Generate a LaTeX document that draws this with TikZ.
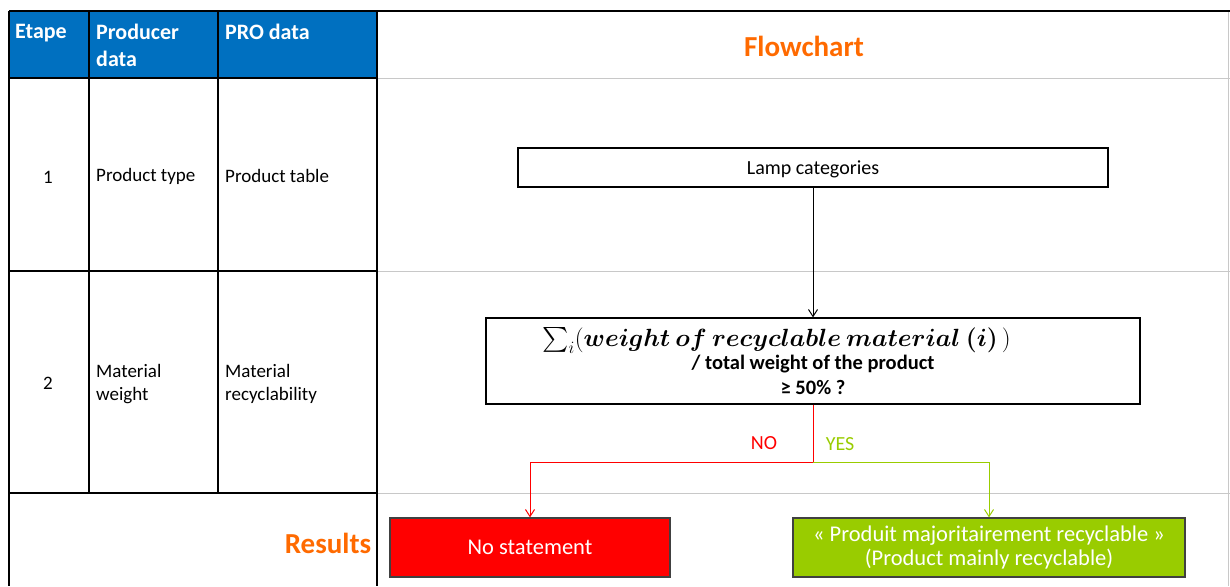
\documentclass[tikz,border=0pt]{standalone}
\usepackage{amsmath}
\usepackage{fontspec}
\setmainfont{Carlito}
\usepackage{bm}
\usetikzlibrary{arrows.meta}
\definecolor{hblue}{HTML}{0070C0}
\definecolor{orng}{HTML}{FF6A00}
\definecolor{nored}{HTML}{FF0000}
\definecolor{yesgreen}{HTML}{99CC00}
\definecolor{lgray}{HTML}{C8C8C8}
\definecolor{bdgray}{HTML}{404040}
\begin{document}
\begin{tikzpicture}[x=1pt,y=-1pt,
  tline/.style={black,line width=1.6pt},
  gline/.style={lgray,line width=1pt},
  htext/.style={text=white,font=\fontsize{22}{27}\selectfont\bfseries,anchor=north west,align=left,inner sep=0pt},
  ctext/.style={font=\fontsize{19}{23}\selectfont,align=left,inner sep=0pt},
  title/.style={text=orng,font=\fontsize{29}{32}\selectfont\bfseries,inner sep=0pt},
  flowbox/.style={draw=black,line width=1.2pt,fill=white,inner sep=0pt,font=\fontsize{20}{24.5}\selectfont,align=center},
  resbox/.style={draw=bdgray,line width=1.2pt,inner sep=0pt,text=white,font=\fontsize{22.5}{24}\selectfont,align=center},
  lbl/.style={font=\fontsize{20}{22}\selectfont,inner sep=0pt},
  arr/.style={line width=1pt,-{Straight Barb[length=7pt,width=9pt]}}
]
\useasboundingbox (0,0) rectangle (1230,586);
% header fill
\fill[hblue] (9,11) rectangle (377,78);
% gray lines in flowchart area
\draw[gline] (377,78) -- (1230,78);
\draw[gline] (377,271) -- (1230,271);
\draw[gline] (377,493) -- (1230,493);
\draw[gline] (1228,11) -- (1228,586);
% table lines
\draw[tline] (9,11) -- (1230,11);
\draw[tline] (9,11) -- (9,586);
\draw[tline] (377,11) -- (377,586);
\draw[tline] (89,11) -- (89,493);
\draw[tline] (218,11) -- (218,493);
\draw[tline] (9,78) -- (377,78);
\draw[tline] (9,271) -- (377,271);
\draw[tline] (9,493) -- (377,493);
% header texts
\node[htext] (h1) at (15,24) {Etape};
\node[htext] (h2) at (96,24) {Producer\\data};
\node[htext] (h3) at (225,24) {PRO data};
% row texts
\node[ctext] (r1a) at (48,177) {1};
\node[ctext,anchor=west] (r1b) at (96,176) {Product type};
\node[ctext,anchor=west] (r1c) at (225,176) {Product table};
\node[ctext] (r2a) at (48,383) {2};
\node[ctext,anchor=west] (r2b) at (96,384) {Material\\weight};
\node[ctext,anchor=west] (r2c) at (225,384) {Material\\recyclability};
% titles
\node[title] (flow) at (804,46) {Flowchart};
\node[title] (res) at (328,543) {Results};
% flowchart boxes
\node[flowbox,minimum width=590pt,minimum height=39pt,text depth=0pt] (lamp) at (813,167.5) {Lamp categories};
\node[flowbox,minimum width=654pt,minimum height=86pt] (cond) at (813,361) {%
  \fontsize{23}{24.5}\selectfont$\sum_{i}(\bm{weight\ of\ recyclable\ material\ (i)}\,)$\hspace*{73pt}\\[-1pt]
  \fontsize{20.5}{24.5}\selectfont\bfseries / total weight of the product\\
  \fontsize{20.5}{24.5}\selectfont\bfseries ≥ 50\% ?};
\node[resbox,fill=nored,minimum width=280pt,minimum height=59pt] (nost) at (530,547.5) {No statement};
\node[resbox,fill=yesgreen,minimum width=392pt,minimum height=59pt] (yes) at (989,547.5) {« Produit majoritairement recyclable »\\(Product mainly recyclable)};
% connectors
\coordinate (split) at (813,462);
\draw[arr,black] (lamp.south) -- (cond.north);
\draw[line width=1pt,nored] (cond.south) -- (split);
\draw[arr,nored] (split) -| (nost.north);
\draw[arr,yesgreen] (split) -| (yes.north);
\node[lbl,text=nored] (nolab) at (764,443) {NO};
\node[lbl,text=yesgreen] (yeslab) at (840,444) {YES};
\end{tikzpicture}
\end{document}
